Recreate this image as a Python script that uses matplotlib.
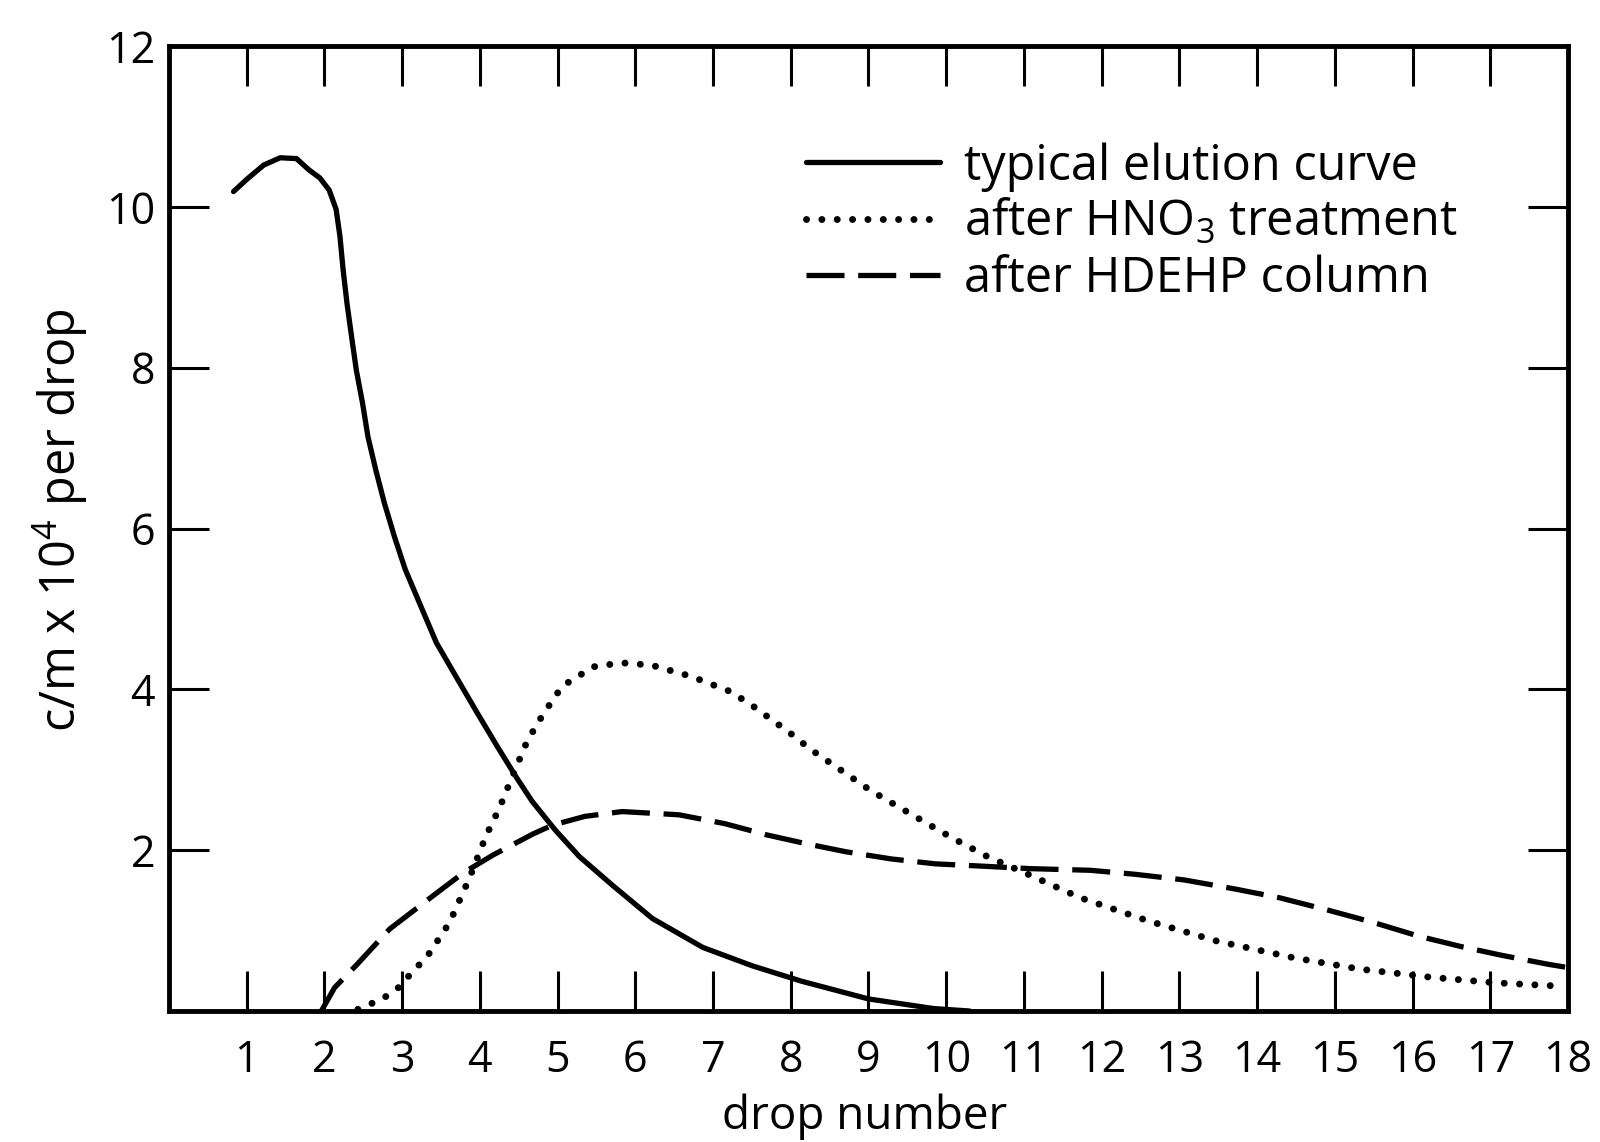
import matplotlib
matplotlib.use("Agg")
import matplotlib.pyplot as plt

plt.rcParams['font.family'] = ['Open Sans', 'DejaVu Sans']
plt.rcParams['mathtext.fontset'] = 'custom'
plt.rcParams['mathtext.rm'] = 'Open Sans'
plt.rcParams['mathtext.it'] = 'Open Sans:italic'
plt.rcParams['mathtext.bf'] = 'Open Sans:bold'

# ---- data ----
typical_x = [0.83, 1.01, 1.22, 1.43, 1.64, 1.80, 1.94, 2.06, 2.15, 2.20, 2.24, 2.29,
             2.35, 2.41, 2.49, 2.56, 2.66, 2.77, 2.90, 3.04, 3.22, 3.44, 3.71, 3.97,
             4.23, 4.46, 4.67, 4.97, 5.28, 5.71, 6.22, 6.87, 7.51, 8.14, 9.00, 9.84, 10.30]
typical_y = [10.19, 10.35, 10.52, 10.61, 10.60, 10.46, 10.36, 10.21, 9.97, 9.63, 9.22, 8.80,
             8.38, 7.97, 7.56, 7.14, 6.73, 6.32, 5.90, 5.49, 5.08, 4.58, 4.13, 3.70,
             3.28, 2.92, 2.61, 2.25, 1.92, 1.56, 1.15, 0.79, 0.56, 0.37, 0.15, 0.03, 0.0]

hno3_x = [2.43, 2.60, 2.79, 2.95, 3.08, 3.33, 3.61, 3.86, 4.08, 4.25, 4.41, 4.61, 4.82,
          5.06, 5.46, 5.82, 6.21, 6.72, 7.23, 7.53, 8.00, 8.26, 9.03, 9.81, 10.10, 10.53,
          11.03, 11.72, 12.60, 13.48, 14.48, 15.33, 16.23, 17.08, 17.88]
hno3_y = [0.02, 0.09, 0.18, 0.29, 0.43, 0.69, 1.10, 1.64, 2.18, 2.52, 2.90, 3.36, 3.70,
          4.04, 4.28, 4.33, 4.30, 4.16, 3.97, 3.78, 3.45, 3.25, 2.74, 2.30, 2.14, 1.92,
          1.71, 1.41, 1.12, 0.87, 0.66, 0.52, 0.42, 0.35, 0.31]

hdehp_x = [1.96, 2.13, 2.42, 2.84, 3.38, 3.79, 4.17, 4.68, 4.93, 5.35, 5.83, 6.56, 7.15,
           7.69, 8.20, 8.71, 9.30, 9.86, 10.49, 11.09, 11.85, 12.43, 13.06, 13.70, 14.28,
           14.89, 15.50, 16.08, 16.63, 17.16, 17.75, 18.0]
hdehp_y = [0.0, 0.29, 0.58, 1.02, 1.42, 1.72, 1.94, 2.20, 2.31, 2.42, 2.48, 2.44, 2.33,
           2.19, 2.08, 1.98, 1.89, 1.83, 1.80, 1.77, 1.75, 1.70, 1.63, 1.52, 1.41,
           1.26, 1.10, 0.93, 0.80, 0.69, 0.58, 0.54]

x_ticks = list(range(1, 19))
x_tick_labels = [str(v) for v in x_ticks]
y_ticks = [2, 4, 6, 8, 10, 12]
y_tick_labels = [str(v) for v in y_ticks]

series_labels = ['typical elution curve', 'after HNO$_3$ treatment', 'after HDEHP column']

# ---- figure ----
fig = plt.figure(figsize=(16, 11.42), dpi=100)
ax = fig.add_axes([169 / 1600, 1 - 1011 / 1142, (1568 - 169) / 1600, (1011 - 46) / 1142])

l1, = ax.plot(typical_x, typical_y, color='black', lw=3.8,
              solid_capstyle='round', solid_joinstyle='round')
l2, = ax.plot(hno3_x, hno3_y, color='black', lw=5.0,
              linestyle=(0, (0.01, 2.2)), dash_capstyle='round')
l3, = ax.plot(hdehp_x, hdehp_y, color='black', lw=3.8,
              linestyle=(0, (7.2, 2.6)), dash_capstyle='butt')

ax.set_xlim(0, 18)
ax.set_ylim(0, 12)

ax.set_xticks(x_ticks)
ax.set_xticklabels(x_tick_labels)
ax.set_yticks(y_ticks)
ax.set_yticklabels(y_tick_labels)

for sp in ax.spines.values():
    sp.set_linewidth(3.5)
    sp.set_color('black')

ax.tick_params(axis='both', which='major', direction='in', length=29, width=2.2,
               top=True, right=True, labeltop=False, labelright=False,
               labelsize=31, colors='black')
ax.tick_params(axis='x', pad=20)
ax.tick_params(axis='y', pad=10)

ax.set_xlabel('drop number', fontsize=33)
ax.set_ylabel('c/m x 10$^4$ per drop', fontsize=35)
ax.xaxis.label.set_va('center')
ax.yaxis.label.set_va('center')
ax.xaxis.set_label_coords(0.497, -0.110)
ax.yaxis.set_label_coords(-0.077, 0.509)

leg = ax.legend([l1, l2, l3], series_labels, loc='upper left',
                bbox_to_anchor=(806 / 1600, 1 - 142 / 1142),
                bbox_transform=fig.transFigure, frameon=False, fontsize=35,
                handlelength=2.75, handletextpad=0.5, labelspacing=0.13,
                borderpad=0, borderaxespad=0)

fig.savefig('out.png', dpi=100, facecolor='white')
